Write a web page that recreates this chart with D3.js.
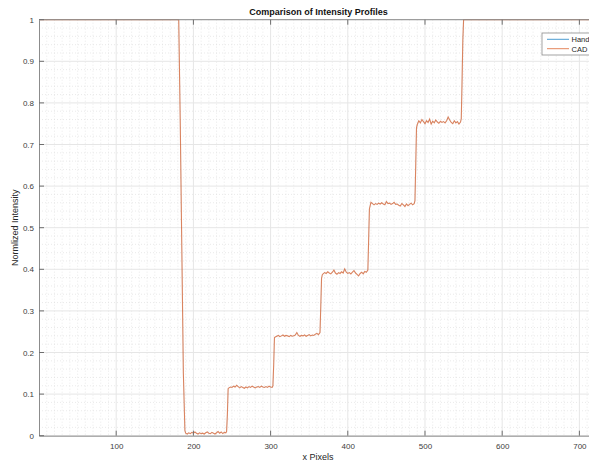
<!DOCTYPE html>
<html>
<head>
<meta charset="utf-8">
<script src="https://cdn.jsdelivr.net/npm/d3@7"></script>
<style>
    body { margin: 0; background: #fff; overflow: hidden; }
    svg { display: block; font-family: "Liberation Sans", Arial, sans-serif; }
    .tick text { fill: #404040; font-size: 8px; }
</style>
</head>
<body>
<div id="viewportContainer"></div>
<script>
/* --- データ --- */
// x座標 (pixel) と正規化強度
const profileX = [
    1, 181, 183, 185, 187, 189,
    190, 192, 194, 196, 198, 200, 202, 204, 206, 208, 210, 212, 214, 216, 218, 220, 222, 224, 226, 228, 230, 232, 234, 236, 238, 240, 242, 243,
    244, 245,
    246, 248, 250, 252, 254, 256, 258, 260, 262, 264, 266, 268, 270, 272, 274, 276, 278, 280, 282, 284, 286, 288, 290, 292, 294, 296, 298, 300, 302, 303,
    304, 305,
    306, 308, 310, 312, 314, 316, 318, 320, 322, 324, 326, 328, 330, 332, 334, 336, 338, 340, 342, 344, 346, 348, 350, 352, 354, 356, 358, 360, 362, 364,
    365, 366, 367,
    368, 370, 372, 374, 376, 378, 380, 382, 384, 386, 388, 390, 392, 394, 396, 398, 400, 402, 404, 406, 408, 410, 412, 414, 416, 418, 420, 422, 424, 426,
    427, 428,
    429, 430, 432, 434, 436, 438, 440, 442, 444, 446, 448, 450, 452, 454, 456, 458, 460, 462, 464, 466, 468, 470, 472, 474, 476, 478, 480, 482, 484, 486, 487,
    488, 489,
    490, 492, 494, 496, 498, 500, 502, 504, 506, 508, 510, 512, 514, 516, 518, 520, 522, 524, 526, 528, 530, 532, 534, 536, 538, 540, 542, 544, 546, 547,
    548, 549, 550, 727
];

const cadValues = [
    1, 1, 0.75, 0.45, 0.15, 0.012,
    0.006, 0.004, 0.007, 0.005, 0.008, 0.006, 0.009, 0.006, 0.004, 0.007, 0.005, 0.006, 0.004, 0.007, 0.009, 0.006, 0.005, 0.008, 0.006, 0.004, 0.007, 0.010, 0.006, 0.009, 0.005, 0.008, 0.007, 0.010,
    0.05, 0.113,
    0.115, 0.117, 0.116, 0.119, 0.117, 0.121, 0.118, 0.115, 0.118, 0.116, 0.114, 0.117, 0.115, 0.118, 0.116, 0.119, 0.117, 0.115, 0.117, 0.118, 0.116, 0.119, 0.117, 0.116, 0.118, 0.116, 0.119, 0.117, 0.116, 0.120,
    0.17, 0.236,
    0.237, 0.239, 0.241, 0.238, 0.240, 0.242, 0.239, 0.241, 0.240, 0.238, 0.241, 0.239, 0.240, 0.242, 0.248, 0.241, 0.239, 0.241, 0.240, 0.242, 0.239, 0.241, 0.243, 0.240, 0.242, 0.241, 0.244, 0.246, 0.243, 0.248,
    0.31, 0.378, 0.387,
    0.389, 0.392, 0.390, 0.394, 0.391, 0.389, 0.393, 0.398, 0.391, 0.388, 0.392, 0.390, 0.394, 0.391, 0.401, 0.393, 0.390, 0.392, 0.389, 0.393, 0.397, 0.391, 0.388, 0.384, 0.390, 0.393, 0.389, 0.395, 0.393, 0.398,
    0.47, 0.545,
    0.553, 0.561, 0.558, 0.555, 0.558, 0.556, 0.559, 0.557, 0.560, 0.557, 0.555, 0.563, 0.558, 0.559, 0.556, 0.558, 0.561, 0.556, 0.557, 0.554, 0.552, 0.558, 0.555, 0.551, 0.557, 0.553, 0.556, 0.559, 0.555, 0.558, 0.565,
    0.65, 0.74,
    0.748, 0.757, 0.752, 0.760, 0.755, 0.750, 0.757, 0.753, 0.761, 0.749, 0.756, 0.752, 0.759, 0.754, 0.751, 0.756, 0.753, 0.755, 0.752, 0.757, 0.766, 0.759, 0.753, 0.750, 0.757, 0.752, 0.755, 0.749, 0.754, 0.762,
    0.85, 0.95, 1, 1
];

// Handのプロファイルは図上でCADと重なっている
const handValues = cadValues;

const seriesNames = ["Hand", "CAD"];
const seriesColors = ["#0072BD", "#D95319"];
const seriesWidths = [0.4, 1.1];
const seriesOpacity = [0.35, 0.68];

const xTicks = [100, 200, 300, 400, 500, 600, 700];
const yTicks = [0, 0.1, 0.2, 0.3, 0.4, 0.5, 0.6, 0.7, 0.8, 0.9, 1];

/* --- ビューポート --- */
const viewport = {width: 589, height: 462};
const plot = {left: 39, right: 600, top: 19.7, bottom: 435.7};

const svg = d3.select("#viewportContainer")
    .append("svg")
    .attr("width", viewport.width)
    .attr("height", viewport.height);

/*--- スケール ---*/
const xScale = d3.scaleLinear().domain([0, 726.7]).range([plot.left, plot.right]);
const yScale = d3.scaleLinear().domain([0, 1]).range([plot.bottom, plot.top]);

/*--- グリッド ---*/
const gridGroup = svg.append("g");
const minorX = d3.range(10, 727, 10).filter(v => v % 100 !== 0);
const minorY = d3.range(1, 50).map(i => i * 0.02).filter((v, i) => (i + 1) % 5 !== 0);

gridGroup.selectAll(".minorX").data(minorX).enter().append("line")
    .attr("x1", d => xScale(d)).attr("x2", d => xScale(d))
    .attr("y1", plot.top).attr("y2", plot.bottom)
    .attr("stroke", "#dcdcdc").attr("stroke-width", 0.6).attr("stroke-dasharray", "1,2");

gridGroup.selectAll(".minorY").data(minorY).enter().append("line")
    .attr("x1", plot.left).attr("x2", plot.right)
    .attr("y1", d => yScale(d)).attr("y2", d => yScale(d))
    .attr("stroke", "#dcdcdc").attr("stroke-width", 0.6).attr("stroke-dasharray", "1,2");

gridGroup.selectAll(".majorX").data(xTicks).enter().append("line")
    .attr("x1", d => xScale(d)).attr("x2", d => xScale(d))
    .attr("y1", plot.top).attr("y2", plot.bottom)
    .attr("stroke", "#e6e6e6").attr("stroke-width", 1);

gridGroup.selectAll(".majorY").data(yTicks).enter().append("line")
    .attr("x1", plot.left).attr("x2", plot.right)
    .attr("y1", d => yScale(d)).attr("y2", d => yScale(d))
    .attr("stroke", "#e6e6e6").attr("stroke-width", 1);

/*--- ライン ---*/
const line = d3.line()
    .x((d, i) => xScale(profileX[i]))
    .y(d => yScale(d));

[handValues, cadValues].forEach((values, k) => {
    svg.append("path")
        .datum(values)
        .attr("fill", "none")
        .attr("stroke", seriesColors[k])
        .attr("stroke-opacity", seriesOpacity[k])
        .attr("stroke-width", seriesWidths[k])
        .attr("d", line);
});

/*--- 軸 ---*/
const axisColor = "#8c8c8c";
const xAxis = d3.axisBottom(xScale).tickValues(xTicks).tickSize(0).tickPadding(8).tickSizeOuter(0);
const yAxis = d3.axisLeft(yScale).tickValues(yTicks).tickSize(0).tickPadding(5).tickSizeOuter(0)
    .tickFormat(d3.format("~g"));

const xAxisContainer = svg.append("g")
    .attr("transform", "translate(0," + plot.bottom + ")")
    .call(xAxis);
const yAxisContainer = svg.append("g")
    .attr("transform", "translate(" + plot.left + ",0)")
    .call(yAxis);
[xAxisContainer, yAxisContainer].forEach(g => {
    g.select(".domain").attr("stroke", axisColor);
    g.selectAll(".tick text").attr("font-family", "Liberation Sans, Arial, sans-serif");
});

// 内向きの目盛り (上下・左)
const tickLen = 5;
svg.append("line")
    .attr("x1", plot.left).attr("x2", plot.right)
    .attr("y1", plot.top).attr("y2", plot.top)
    .attr("stroke", axisColor);
svg.selectAll(".xTickMark").data(xTicks).enter().append("path")
    .attr("stroke", "#6e6e6e")
    .attr("d", d => "M" + xScale(d) + "," + plot.bottom + "v" + (-tickLen) +
        "M" + xScale(d) + "," + plot.top + "v" + tickLen);
svg.selectAll(".yTickMark").data(yTicks).enter().append("path")
    .attr("stroke", "#6e6e6e")
    .attr("d", d => "M" + plot.left + "," + yScale(d) + "h" + tickLen);

/*--- テキスト ---*/
svg.append("text")
    .attr("x", 318.5).attr("y", 15)
    .attr("text-anchor", "middle")
    .attr("font-size", 9).attr("font-weight", "bold").attr("fill", "#111")
    .text("Comparison of Intensity Profiles");

svg.append("text")
    .attr("x", 318).attr("y", 460)
    .attr("text-anchor", "middle")
    .attr("font-size", 9).attr("fill", "#262626")
    .text("x Pixels");

svg.append("text")
    .attr("transform", "rotate(-90)")
    .attr("x", -(plot.top + plot.bottom) / 2).attr("y", 18)
    .attr("text-anchor", "middle")
    .attr("font-size", 9).attr("fill", "#262626")
    .text("Normlized Intensity");

/*--- 凡例 ---*/
const legend = svg.append("g").attr("transform", "translate(542,33)");
legend.append("rect")
    .attr("width", 56).attr("height", 22)
    .attr("fill", "#fff").attr("stroke", "#8c8c8c").attr("stroke-width", 0.8);
seriesNames.forEach((name, k) => {
    const y = 6.3 + k * 9.4;
    legend.append("line")
        .attr("x1", 5).attr("x2", 27).attr("y1", y).attr("y2", y)
        .attr("stroke", seriesColors[k]).attr("stroke-opacity", 0.7).attr("stroke-width", 1);
    legend.append("text")
        .attr("x", 29.5).attr("y", y + 3)
        .attr("font-size", 7.5).attr("fill", "#262626")
        .text(name);
});
</script>
</body>
</html>
